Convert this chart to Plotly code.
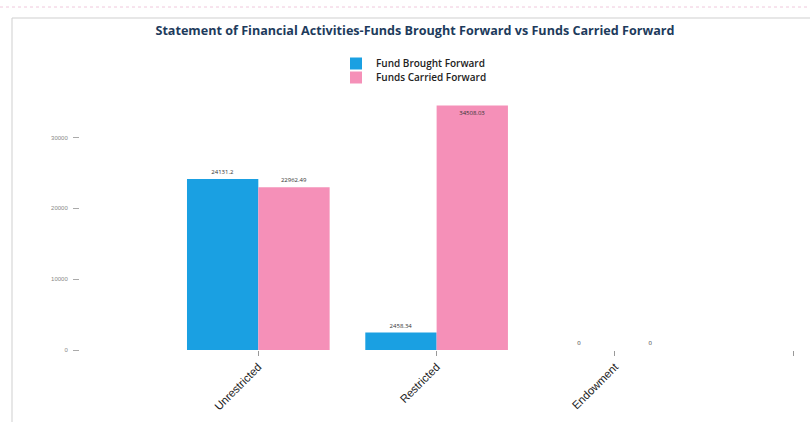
import plotly.graph_objects as go

categories = ["Unrestricted", "Restricted", "Endowment", " "]
brought_forward = [24131.2, 2458.34, 0, None]
carried_forward = [22962.49, 34508.03, 0, None]
brought_labels = ["24131.2", "2458.34", "0", ""]
carried_labels = ["22962.49", "34508.03", "0", ""]
y_ticks = [0, 10000, 20000, 30000]

title = "Statement of Financial Activities-Funds Brought Forward vs Funds Carried Forward"

fig = go.Figure()
fig.add_trace(go.Bar(
    x=categories, y=brought_forward, name="Fund Brought Forward",
    marker=dict(color="#1aa0e2", line=dict(width=0)), text=brought_labels, textposition="outside",
    textfont=dict(size=6, color="#333333"), cliponaxis=False, legend="legend", showlegend=True,
))
fig.add_trace(go.Bar(
    x=categories, y=carried_forward, name="Funds Carried Forward",
    marker=dict(color="#f590b8", line=dict(width=0)), text=carried_labels,
    textposition=["outside", "inside", "outside", "outside"], insidetextanchor="end",
    textfont=dict(size=6, color="#333333"), insidetextfont=dict(size=6, color="#333333"),
    cliponaxis=False, legend="legend2", showlegend=True,
))

L, R, T, B = 80, 0, 95, 72
W, H = 810, 422
pw = W - L - R
ph = H - T - B

legend_style = dict(orientation="v", x=(336 - L) / pw, xanchor="left", yanchor="top",
                    font=dict(family="Open Sans", size=10, weight=600, color="#222222"),
                    tracegroupgap=0, itemwidth=30, bgcolor="rgba(0,0,0,0)")

fig.update_layout(
    width=W, height=H, showlegend=True,
    margin=dict(l=L, r=R, t=T, b=B, autoexpand=False),
    paper_bgcolor="white", plot_bgcolor="white",
    barmode="group", bargap=0.2, bargroupgap=0,
    uniformtext=dict(minsize=6, mode="show"),
    title=dict(text=title, x=(415 - L) / pw, xref="paper", xanchor="center",
               y=1 - 31 / H, yanchor="middle",
               font=dict(family="Open Sans", size=12.6, weight=700, color="#1d3b5c")),
    legend=dict(legend_style, y=1 + (T - 49) / ph),
    legend2=dict(legend_style, y=1 + (T - 63) / ph),
    font=dict(family="Open Sans"),
    xaxis=dict(type="category", range=[-1, 3.094], tickmode="array",
               tickvals=categories, ticktext=["Unrestricted", "Restricted", "Endowment", ""],
               tickangle=-45, ticks="outside", ticklen=5, tickcolor="#999999",
               tickfont=dict(family="Liberation Sans", size=11.3, color="#222222"),
               showgrid=False, showline=False, zeroline=False),
    yaxis=dict(range=[0, 36000], tickvals=y_ticks, tickformat="d", ticks="outside", ticklen=6,
               tickcolor="#aaaaaa", ticklabelstandoff=4,
               tickfont=dict(family="Liberation Sans", size=6, color="#888888"),
               showgrid=False, showline=False, zeroline=False),
    shapes=[
        dict(type="rect", xref="paper", yref="paper",
             x0=(12 - L) / pw, x1=(W + 20 - L) / pw,
             y0=-(B + 20) / ph, y1=1 + (T - 18) / ph,
             line=dict(color="#cfcfcf", width=1)),
        dict(type="line", xref="paper", yref="paper",
             x0=-L / pw, x1=1,
             y0=1 + (T - 7) / ph, y1=1 + (T - 7) / ph,
             line=dict(color="#f0c8dc", width=1, dash="dot")),
    ],
)

fig.write_html("out.html", config={"displayModeBar": False},
               post_script="document.body.style.margin='0';document.body.style.overflow='hidden';")
